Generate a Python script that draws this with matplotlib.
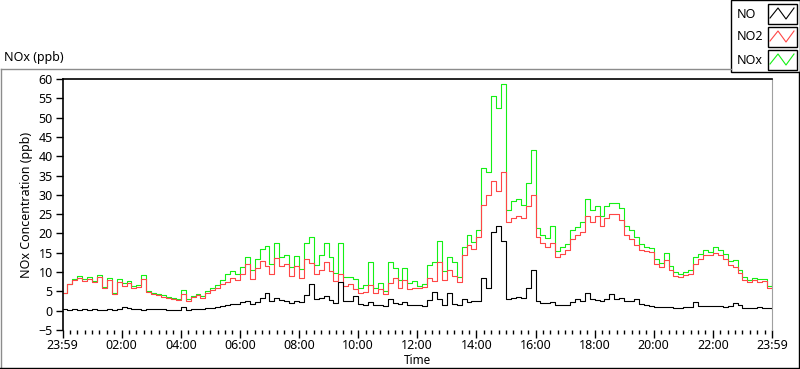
import matplotlib
matplotlib.use("Agg")
import matplotlib.pyplot as plt
import numpy as np
from matplotlib.lines import Line2D
from matplotlib.patches import Rectangle

plt.rcParams['font.family'] = ['Noto Sans', 'DejaVu Sans']

# minutes after 23:59, one sample every 10 min
minutes = list(range(0, 1441, 10))

no2 = [4.5, 6.8, 8.0, 8.5, 7.8, 8.2, 7.4, 8.6, 5.8, 8.0,
       4.2, 7.4, 6.5, 7.3, 5.9, 6.2, 8.2, 4.8, 4.3, 4.0,
       3.6, 3.2, 3.0, 2.8, 4.2, 2.6, 3.6, 4.0, 3.4, 4.5,
       5.4, 5.8, 6.8, 7.4, 8.4, 8.0, 9.5, 12.0, 8.2, 11.0,
       12.8, 11.6, 9.5, 13.6, 11.5, 12.0, 9.0, 11.5, 8.5, 13.5,
       12.3, 9.5, 10.6, 12.5, 10.3, 7.8, 9.5, 6.4, 6.8, 5.6,
       4.6, 4.8, 6.6, 4.6, 5.5, 4.2, 7.2, 8.5, 6.0, 8.0,
       5.6, 6.0, 5.8, 6.2, 8.5, 7.8, 12.5, 8.0, 10.5, 9.0,
       7.5, 14.5, 17.0, 16.0, 19.0, 27.5, 30.0, 33.5, 31.0, 36.0,
       23.0, 24.0, 24.5, 24.0, 27.0, 30.0, 19.0, 17.5, 16.5, 17.5,
       14.0, 14.8, 15.8, 18.5, 19.5, 20.5, 24.5, 23.0, 24.5, 22.0,
       24.0, 25.0, 25.0, 23.5, 19.5, 18.5, 17.0, 15.8, 15.5, 15.2,
       12.2, 11.4, 13.0, 10.5, 9.0, 8.8, 9.2, 9.6, 12.0, 13.5,
       14.4, 14.4, 15.0, 14.4, 13.5, 11.8, 11.4, 9.8, 8.0, 7.5,
       8.0, 7.5, 7.8, 5.8, 7.0]

nox = [4.7, 7.0, 8.3, 9.0, 8.1, 8.6, 7.8, 9.2, 6.1, 8.4,
       4.5, 8.3, 7.2, 7.8, 6.3, 6.6, 9.3, 5.0, 4.6, 4.3,
       4.0, 3.5, 3.3, 3.0, 5.3, 2.9, 3.9, 4.4, 3.7, 5.0,
       6.0, 6.6, 8.0, 9.5, 10.2, 9.6, 11.4, 14.0, 10.6, 13.5,
       16.0, 16.8, 12.0, 17.6, 14.0, 14.5, 11.2, 14.2, 10.8, 17.5,
       19.2, 11.8, 14.5, 17.5, 14.0, 9.8, 17.5, 8.6, 8.8, 8.2,
       6.0, 6.6, 12.5, 5.8, 7.1, 5.0, 12.5, 11.0, 8.0, 11.0,
       7.2, 7.8, 6.5, 6.8, 11.8, 12.5, 18.0, 10.2, 14.0, 12.5,
       8.6, 16.5, 19.5, 17.8, 21.0, 37.0, 36.0, 55.5, 52.5, 58.8,
       26.0, 28.5, 29.0, 27.5, 33.0, 41.5, 21.5, 19.5, 18.8, 22.0,
       15.5, 16.5, 17.2, 21.0, 21.8, 23.0, 28.8, 26.0, 27.0, 24.5,
       27.0, 28.0, 27.8, 26.5, 22.0, 21.0, 19.0, 17.2, 16.5, 16.2,
       13.5, 12.3, 15.0, 11.6, 10.0, 9.6, 10.0, 10.6, 14.0, 14.8,
       15.8, 15.3, 16.5, 15.8, 14.6, 12.8, 13.2, 10.6, 8.6, 8.0,
       8.4, 8.3, 8.3, 6.5, 7.4]

no = [0.4, 0.3, 0.4, 0.3, 0.4, 0.3, 0.4, 0.3, 0.3, 0.4,
      0.3, 0.5, 1.0, 0.6, 0.4, 0.4, 0.3, 0.5, 0.4, 0.4,
      0.5, 0.3, 0.3, 0.3, 0.9, 0.3, 0.4, 0.5, 0.5, 0.7,
      0.8, 1.0, 1.3, 1.6, 1.8, 1.7, 2.2, 2.6, 1.8, 2.3,
      3.4, 4.5, 2.4, 3.2, 2.8, 2.5, 2.0, 2.5, 2.2, 4.0,
      6.8, 3.0, 3.2, 3.8, 2.8, 2.0, 7.5, 2.4, 2.5, 3.8,
      1.8, 1.6, 2.2, 1.5, 1.6, 1.3, 3.0, 2.0, 1.8, 2.2,
      1.5, 1.6, 1.4, 1.2, 2.8, 4.8, 3.0, 1.6, 4.5, 1.8,
      1.6, 3.0, 2.2, 2.4, 2.6, 8.5, 6.0, 20.5, 22.0, 18.0,
      3.0, 3.2, 3.5, 3.4, 5.8, 10.5, 2.5, 2.0, 2.0, 2.3,
      1.5, 1.6, 1.5, 2.2, 3.0, 2.6, 4.5, 3.0, 2.8, 2.6,
      3.0, 4.2, 3.0, 3.2, 2.6, 2.4, 3.0, 1.8, 1.6, 1.2,
      1.0, 0.9, 1.0, 0.9, 0.8, 0.8, 0.9, 1.0, 2.2, 1.3,
      1.2, 1.2, 1.3, 1.2, 1.0, 1.1, 2.0, 1.6, 0.8, 0.7,
      0.8, 0.9, 0.7, 0.6, 0.5]

tick_labels = ["23:59", "02:00", "04:00", "06:00", "08:00", "10:00", "12:00",
               "14:00", "16:00", "18:00", "20:00", "22:00", "23:59"]

series_names = ["NO", "NO2", "NOx"]
series_colors = ["black", "#ff4646", "#14f014"]

W, H = 800, 369
fig = plt.figure(figsize=(W / 100, H / 100), dpi=100)


def px(x, y):
    # pixel coords (origin top-left) -> figure fraction
    return x / W, 1 - y / H


def fline(x0, y0, x1, y1, color, lw=1.0):
    a, b = px(x0, y0)
    c, d = px(x1, y1)
    fig.add_artist(Line2D([a, c], [b, d], color=color, lw=lw,
                          transform=fig.transFigure))


# outer frame
fline(0.5, 68.5, 731, 68.5, "#8c8c8c")
fline(0.5, 68.5, 0.5, 368, "#8c8c8c")
fline(0, 367.5, 800, 367.5, "black")
fline(799.3, 72, 799.3, 368, "black")

fig.text(4 / W, 1 - 58 / H, "NOx (ppb)", fontsize=9, va="center", ha="left")

l, b = px(62.5, 330)
r, t = px(772, 79)
ax = fig.add_axes([l, b, r - l, t - b])

ax.step(minutes, nox, where="post", color=series_colors[2], lw=0.8)
ax.step(minutes, no2, where="post", color=series_colors[1], lw=0.8)
ax.step(minutes, no, where="post", color=series_colors[0], lw=0.8)

ax.set_xlim(0, 1440)
ax.set_ylim(-5, 60)
ax.set_yticks(range(-5, 61, 5))
ax.set_xticks(range(0, 1441, 120))
ax.set_xticklabels(tick_labels)
ax.set_xticks(range(0, 1441, 15), minor=True)
ax.tick_params(axis="both", which="major", labelsize=9, length=5, width=1,
               direction="out", pad=2)
ax.tick_params(axis="x", which="major", length=6, pad=0.5)
ax.tick_params(axis="x", which="minor", length=3, width=1)

ax.spines["bottom"].set_visible(False)
ax.spines["right"].set_color("#a0a0a0")
ax.spines["left"].set_linewidth(1.2)
ax.spines["top"].set_linewidth(1.2)

tx, ty = px(418, 361)
fig.text(tx, ty, "Time", fontsize=8.5, ha="center", va="center")
ax.set_ylabel("NOx Concentration (ppb)", fontsize=9, labelpad=4)

# legend panel, top right
x0, y0 = px(730.5, 72)
x1, y1 = px(800, 0)
fig.add_artist(Rectangle((x0, y0), x1 - x0, y1 - y0, transform=fig.transFigure,
                         facecolor="white", edgecolor="black", lw=1.0))
for i, (name, col) in enumerate(zip(series_names, series_colors)):
    cy = 14 + i * 23
    tx, ty = px(737, cy)
    fig.text(tx, ty, name, fontsize=9, va="center", ha="left")
    bx0, by0 = px(768, cy + 10)
    bx1, by1 = px(797, cy - 10)
    fig.add_artist(Rectangle((bx0, by0), bx1 - bx0, by1 - by0,
                             transform=fig.transFigure, facecolor="white",
                             edgecolor="black", lw=1.0))
    zx = [770, 778, 786, 794]
    zy = [cy + 4, cy - 6, cy + 5, cy - 6]
    pts = [px(a, c) for a, c in zip(zx, zy)]
    fig.add_artist(Line2D([p[0] for p in pts], [p[1] for p in pts],
                          color=col, lw=0.8, transform=fig.transFigure))

fig.savefig("out.png", dpi=100)
